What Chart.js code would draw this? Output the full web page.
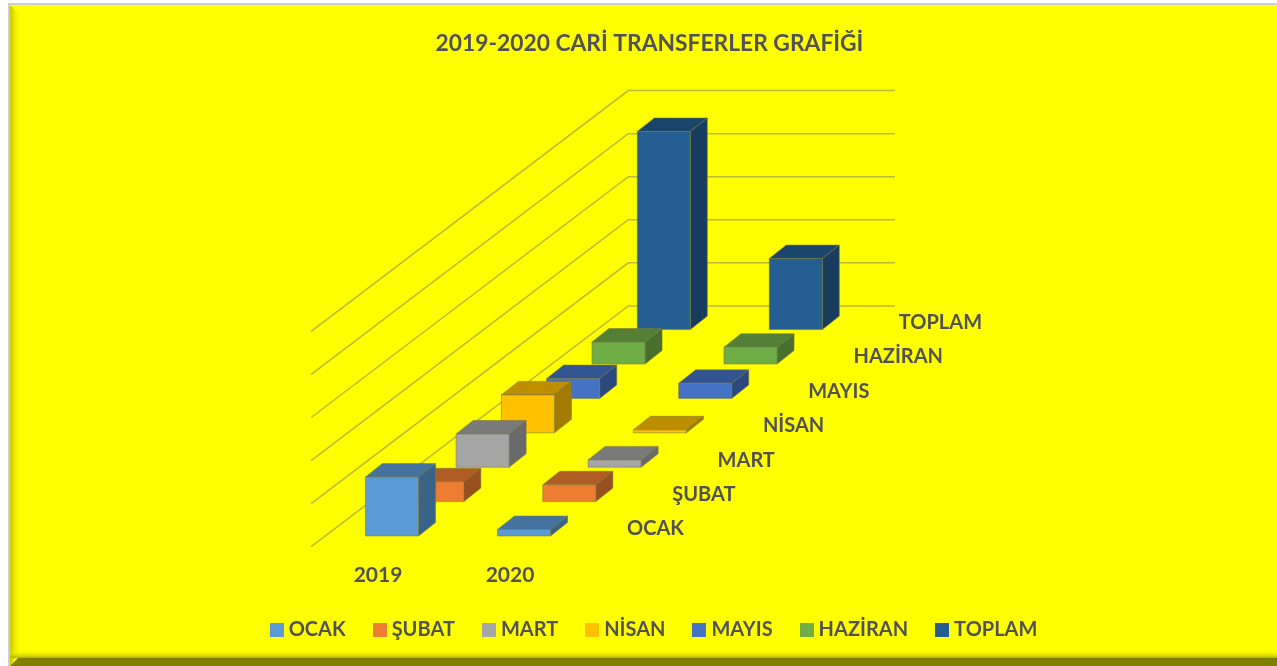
<!DOCTYPE html>
<html><head><meta charset="utf-8">
<style>html,body{margin:0;padding:0;background:#fff}#w{width:1277px;height:666px;position:relative}</style>
<script src="https://cdn.jsdelivr.net/npm/chart.js@4"></script>
</head><body><div id="w"><canvas id="c" width="1277" height="666"></canvas></div>
<script>
const titleText = '2019-2020 CARİ TRANSFERLER GRAFİĞİ';
const years = ['2019','2020'];
const seriesNames = ['OCAK','ŞUBAT','MART','NİSAN','MAYIS','HAZİRAN','TOPLAM'];
const ocak    = [137, 15];
const subat   = [46, 39];
const mart    = [77, 17];
const nisan   = [88, 7];
const mayis   = [46, 35];
const haziran = [51, 39];
const toplam  = [460, 165];
const seriesValues = [ocak, subat, mart, nisan, mayis, haziran, toplam];
const colours = ['#5B9BD5','#ED7D31','#A5A5A5','#FFC000','#4472C4','#70AD47','#255E91'];

const TEXT = '#515156';
const FONT = 'Lato, "Open Sans", sans-serif';
const STEP_X = 45.3, STEP_Y = 34.4;      // one series step into the depth
const BOX_X = 17, BOX_Y = 13.5;          // depth of a box

function shade(hex, k){
  const n = parseInt(hex.slice(1),16);
  return 'rgb('+[(n>>16)&255,(n>>8)&255,n&255].map(v=>Math.round(v*k)).join(',')+')';
}
function swatch(col){
  const s = document.createElement('canvas');
  s.width = 14; s.height = 14;
  const g = s.getContext('2d');
  g.fillStyle = col; g.fillRect(0,0,14,14);
  return s;
}
let depthIndex = 0;
Chart.BarElement.prototype.draw = function(ctx){
  const p = this.getProps(['x','y','base','width'], true);
  const c = this.options.backgroundColor;
  const ox = depthIndex*STEP_X, oy = -depthIndex*STEP_Y;
  const l = p.x - p.width/2 + ox, r = p.x + p.width/2 + ox, t = p.y + oy, b = p.base + oy;
  const face = (pts, fill) => {
    ctx.beginPath();
    pts.forEach((q,i)=> i ? ctx.lineTo(q[0],q[1]) : ctx.moveTo(q[0],q[1]));
    ctx.closePath();
    ctx.fillStyle = fill; ctx.fill();
    ctx.strokeStyle = 'rgba(120,120,70,0.55)'; ctx.lineWidth = 1; ctx.stroke();
  };
  ctx.save();
  face([[l,t],[l+BOX_X,t-BOX_Y],[r+BOX_X,t-BOX_Y],[r,t]], shade(c,0.74));
  face([[r,t],[r+BOX_X,t-BOX_Y],[r+BOX_X,b-BOX_Y],[r,b]], shade(c,0.64));
  face([[l,t],[r,t],[r,b],[l,b]], c);
  ctx.restore();
};

const framePlugin = {
  id:'frame',
  afterLayout(chart){ chart.legend.left += 6.5; chart.legend.right += 6.5; },
  beforeDraw(chart){
    const ctx = chart.ctx, W = chart.width, H = chart.height;
    ctx.save();
    ctx.fillStyle = '#ffffff'; ctx.fillRect(0,0,W,H);
    ctx.fillStyle = '#cfcfcf'; ctx.fillRect(9,3,W-9,2); ctx.fillRect(8,3,2,H-3);
    ctx.fillStyle = '#ffff00'; ctx.fillRect(10,5,W-10,H-5);
    let g = ctx.createLinearGradient(10,0,22,0);
    g.addColorStop(0,'#c4c400'); g.addColorStop(1,'rgba(255,255,0,0)');
    ctx.fillStyle = g;
    ctx.beginPath(); ctx.moveTo(10,5); ctx.lineTo(22,16); ctx.lineTo(22,648); ctx.lineTo(10,H); ctx.closePath(); ctx.fill();
    g = ctx.createLinearGradient(0,650,0,658);
    g.addColorStop(0,'rgba(255,255,0,0)'); g.addColorStop(1,'#b0b000');
    ctx.fillStyle = g; ctx.fillRect(10,650,W-10,8);
    ctx.fillStyle = '#808000';
    ctx.beginPath(); ctx.moveTo(10,H); ctx.lineTo(18,658); ctx.lineTo(W,658); ctx.lineTo(W,H); ctx.closePath(); ctx.fill();
    ctx.restore();
  },
  beforeDatasetsDraw(chart){
    const ctx = chart.ctx, y = chart.scales.y, x = chart.scales.x;
    const fx = x.left - 14.8;
    ctx.save();
    ctx.strokeStyle = '#b9b93a'; ctx.lineWidth = 1.5;
    y.ticks.forEach((t,i)=>{
      const py = y.getPixelForTick(i) + 10.7;
      const bx = fx + 7*STEP_X, by = py - 7*STEP_Y;
      ctx.beginPath(); ctx.moveTo(fx,py); ctx.lineTo(bx,by); ctx.lineTo(895,by); ctx.stroke();
    });
    ctx.restore();
  },
  beforeDatasetDraw(chart,args){ depthIndex = args.index; },
  afterDatasetsDraw(chart){
    const ctx = chart.ctx, x = chart.scales.x, y = chart.scales.y;
    ctx.save();
    ctx.font = 'bold 20px '+FONT; ctx.fillStyle = TEXT;
    ctx.textAlign = 'left'; ctx.textBaseline = 'middle';
    seriesNames.forEach((n,i)=>{
      ctx.fillText(n, x.right + 37 + i*STEP_X, y.bottom - 7 - i*STEP_Y);
    });
    ctx.restore();
  }
};

const datasets = seriesNames.map((n,i)=>({
  label:n, data:seriesValues[i], backgroundColor:colours[i], clip:false,
  barPercentage:0.402, categoryPercentage:1, grouped:false
}));

new Chart(document.getElementById('c'),{
  type:'bar',
  data:{labels:years, datasets},
  plugins:[framePlugin],
  options:{
    responsive:false, animation:false,
    layout:{padding:{top:30,bottom:16,left:22,right:0}},
    datasets:{bar:{grouped:false}},
    plugins:{
      tooltip:{enabled:false},
      title:{display:true,text:titleText,color:TEXT,font:{family:FONT,size:22.8,weight:'bold'},padding:{top:0,bottom:263.3}},
      legend:{position:'bottom',labels:{
        usePointStyle:true, pointStyleWidth:4, boxHeight:14,
        font:{family:FONT,size:20,weight:'bold'},color:TEXT,padding:32,
        generateLabels(chart){
          return Chart.defaults.plugins.legend.labels.generateLabels(chart)
            .map((it,i)=>Object.assign(it,{pointStyle:swatch(colours[i])}));
        }
      }}
    },
    scales:{
      x:{grid:{display:false},border:{display:false},
         ticks:{font:{family:FONT,size:21,weight:'bold'},color:TEXT,padding:19,labelOffset:-14,maxRotation:0},
         afterFit(s){s.height=52;}},
      y:{min:0,max:500,ticks:{stepSize:100,display:false},grid:{display:false},border:{display:false},
         afterFit(s){s.width=304;}},
      yR:{position:'right',min:0,max:1,ticks:{display:false},grid:{display:false},border:{display:false},
         afterFit(s){s.width=687;}}
    }
  }
});
</script></body></html>
